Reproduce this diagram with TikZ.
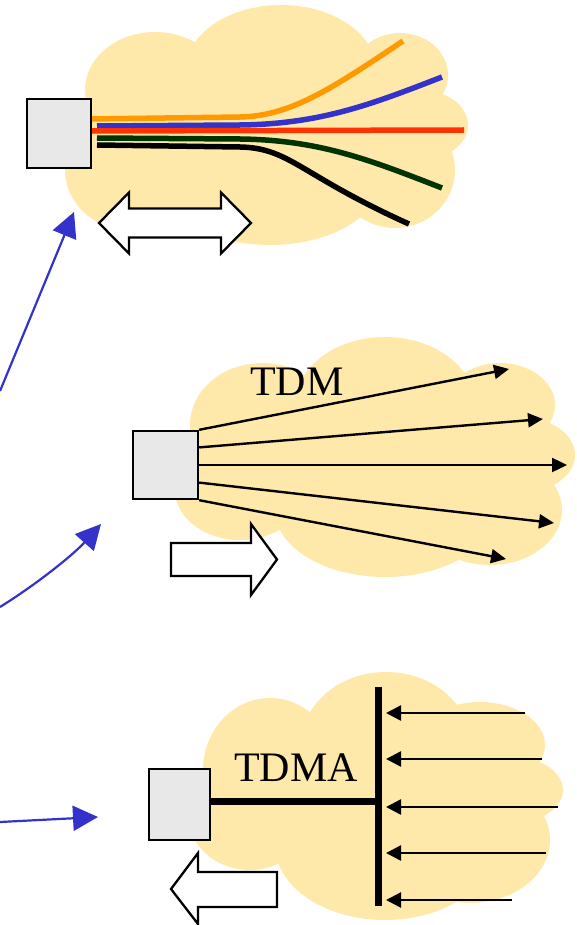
\documentclass[tikz,border=0pt]{standalone}
\usepackage{fontspec}
\setmainfont{Liberation Serif}
\usetikzlibrary{arrows.meta,calc,positioning}

\definecolor{nuage}{RGB}{255,233,170}
\definecolor{gris}{RGB}{232,232,232}
\definecolor{bleu}{RGB}{51,51,204}
\definecolor{fibreorange}{RGB}{255,153,0}
\definecolor{fibrerouge}{RGB}{255,51,0}
\definecolor{fibrevert}{RGB}{0,51,0}

\tikzset{
  boite/.style={draw,line width=2.4pt,fill=gris,inner sep=0pt},
  fibre/.style={line width=5.5pt},
  fleche/.style={line width=2.4pt,-{Triangle[length=15pt,width=14pt]}},
  renvoi/.style={bleu,line width=2.2pt,-{Triangle[length=25pt,width=25pt]}},
  grosse/.style={draw,line width=2.3pt,fill=white,line join=miter},
  titre/.style={anchor=base west,inner sep=0pt,font=\fontsize{42}{48}\selectfont}
}

\begin{document}
\begin{tikzpicture}[x=1pt,y=-1pt]
\pgfmathsetmacro{\ybarre}{801.7}%
\pgfmathsetmacro{\xbarre}{378}%

\useasboundingbox (0,0) rectangle (577,925);

    %nuage 1
    \fill[nuage] (281,70) ellipse [x radius=95pt,y radius=65pt]
      (155,90) ellipse [x radius=70pt,y radius=58pt]
      (400,75) ellipse [x radius=48pt,y radius=42pt]
      (420,125) ellipse [x radius=48pt,y radius=35pt]
      (395,170) ellipse [x radius=60pt,y radius=58pt]
      (270,180) ellipse [x radius=110pt,y radius=65pt]
      (130,170) ellipse [x radius=65pt,y radius=60pt]
      (270,130) ellipse [x radius=150pt,y radius=80pt];

    %nuage 2
    \fill[nuage] (385,405) ellipse [x radius=90pt,y radius=68pt]
      (262,425) ellipse [x radius=72pt,y radius=62pt]
      (500,405) ellipse [x radius=55pt,y radius=42pt]
      (520,455) ellipse [x radius=55pt,y radius=38pt]
      (490,510) ellipse [x radius=72pt,y radius=55pt]
      (385,510) ellipse [x radius=110pt,y radius=67pt]
      (240,490) ellipse [x radius=65pt,y radius=50pt]
      (380,460) ellipse [x radius=160pt,y radius=80pt];

    %nuage 3
    \fill[nuage] (386,745) ellipse [x radius=85pt,y radius=73pt]
      (270,770) ellipse [x radius=67pt,y radius=72pt]
      (480,745) ellipse [x radius=65pt,y radius=43pt]
      (505,790) ellipse [x radius=58pt,y radius=35pt]
      (470,840) ellipse [x radius=80pt,y radius=63pt]
      (385,845) ellipse [x radius=110pt,y radius=75pt]
      (250,815) ellipse [x radius=62pt,y radius=55pt]
      (380,800) ellipse [x radius=150pt,y radius=80pt];

    %fibres
    \draw[fibre,fibreorange] (90,119) -- (240,117) .. controls (290,116) and (330,90) .. (403,41);
    \draw[fibre,bleu] (97,126) -- (240,125) .. controls (320,124) and (370,105) .. (442,77);
    \draw[fibre,fibrerouge] (92,131) -- (464,130);
    \draw[fibre,fibrevert] (97,138) -- (240,139) .. controls (320,140) and (370,160) .. (442,188);
    \draw[fibre,black] (97,145) -- (240,147) .. controls (290,148) and (300,175) .. (409,224);

    %boites
    \node[boite,minimum width=64pt,minimum height=69pt] (sta1) at (59,133.5) {};
    \node[boite,minimum width=65pt,minimum height=68pt] (sta2) at (165.5,465) {};
    \node[boite,minimum width=61pt,minimum height=71pt] (sta3) at (179.5,804.5) {};

    %double fleche
    \draw[grosse] (99,223) -- (129,192.5) -- (129,208.5) -- (221,208.5) -- (221,192.5) -- (251,223)
      -- (221,253.5) -- (221,237.5) -- (129,237.5) -- (129,253.5) -- cycle;

    %TDM
    \node[titre] (tdm) at (250,395) {TDM};
    \coordinate (c1) at (509,369);
    \coordinate (c2) at (543,419);
    \coordinate (c3) at (567,465);
    \coordinate (c4) at (554,523);
    \coordinate (c5) at (506,559);
    \draw[fleche] (sta2.north east) -- (c1);
    \draw[fleche] ($(sta2.north east)!0.25!(sta2.south east)$) -- (c2);
    \draw[fleche] (sta2.east) -- (c3);
    \draw[fleche] ($(sta2.north east)!0.75!(sta2.south east)$) -- (c4);
    \draw[fleche] (sta2.south east) -- (c5);
    \draw[grosse] (171,543) -- (251,543) -- (251,524) -- (277,559.5) -- (251,595) -- (251,576) -- (171,576) -- cycle;

    %TDMA
    \node[titre] (tdma) at (234,781) {TDMA};
    \coordinate (bh) at (\xbarre,687);
    \coordinate (bb) at (\xbarre,906);
    \draw[line width=7pt] (bh) -- (bb);
    \draw[line width=7pt] (sta3.east |- 0,\ybarre) -- (\xbarre,\ybarre);
    \coordinate (s1) at (525,713);
    \coordinate (s2) at (542,759);
    \coordinate (s3) at (558,807);
    \coordinate (s4) at (546,853);
    \coordinate (s5) at (512,900);
    \draw[fleche,-{Triangle[length=15pt,width=15pt]}] (s1) -- (386,713);
    \draw[fleche,-{Triangle[length=15pt,width=15pt]}] (s2) -- (386,759);
    \draw[fleche,-{Triangle[length=15pt,width=15pt]}] (s3) -- (386,807);
    \draw[fleche,-{Triangle[length=15pt,width=15pt]}] (s4) -- (386,853);
    \draw[fleche,-{Triangle[length=15pt,width=15pt]}] (s5) -- (386,900);
    \draw[grosse] (171,889) -- (198,853) -- (198,872) -- (277,872) -- (277,907) -- (198,907) -- (198,924) -- cycle;

    %renvois
    \coordinate (r1) at (0,391);
    \coordinate (p1) at (74,212);
    \coordinate (r2) at (0,607);
    \coordinate (p2) at (101,524);
    \coordinate (r3) at (0,822);
    \coordinate (p3) at (98,817);
    \draw[renvoi] (r1) -- (p1);
    \draw[renvoi] (r2) .. controls (40,582) and (75,553) .. (p2);
    \draw[renvoi] (r3) -- (p3);

\end{tikzpicture}
\end{document}
